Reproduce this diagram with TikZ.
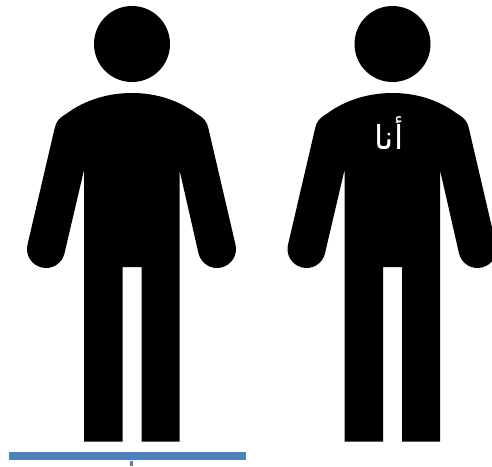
\documentclass[tikz,border=0pt]{standalone}
\usepackage{fontspec}
\newfontfamily\arabicfont[Script=Arabic]{DejaVu Sans}
\TeXXeTstate=1
\definecolor{barblue}{HTML}{4F81BD}
\usetikzlibrary{positioning}

\begin{document}
\begin{tikzpicture}[
    x=1pt, y=-1pt,
    headdot/.style={circle, fill=black, inner sep=0pt, minimum size=76pt},
    bodyfill/.style={fill=black, draw=none},
    shirtlabel/.style={text=white, inner sep=0pt, font=\arabicfont\fontsize{33}{40}\selectfont},
    basebar/.style={fill=barblue, inner sep=0pt, minimum width=237pt, minimum height=8pt},
    bartick/.style={draw=barblue, line width=2.5pt},
  ]
  \useasboundingbox (0,0) rectangle (492,466);

  % === Figures ===
  \foreach \shift/\name in {0/left, 260.5/right} {
    \begin{scope}[xshift=\shift pt]
      \node[headdot] (head\name) at (132,44) {};
      \path[bodyfill] (132,93)
        .. controls (110,93) and (86,99) .. (66,114)
        .. controls (59,118) and (56,122) .. (54.7,128)
        -- (27.5,244.7)
        .. controls (25.1,254.9) and (31.5,265.1) .. (41.7,267.5)
        .. controls (51.9,269.9) and (62.1,263.5) .. (64.5,253.3)
        -- (84,170) -- (84,441.7) -- (122.5,441.7) -- (122.5,267)
        -- (141.5,267) -- (141.5,441.7) -- (179.5,441.7) -- (179.5,170)
        -- (198.5,253.3)
        .. controls (200.9,263.5) and (211.1,269.9) .. (221.3,267.5)
        .. controls (231.5,265.1) and (237.9,254.9) .. (235.5,244.7)
        -- (208.3,128)
        .. controls (207,122) and (204,118) .. (197,114)
        .. controls (177,99) and (154,93) .. (132,93) -- cycle;
    \end{scope}
  }

  % Label on the right figure
  \node[shirtlabel] (melabel) at (389,133) {\beginR أنا\endR};

  % === Bar below the left figure ===
  \node[basebar] (bar) at (127.5,456.3) {};
  \coordinate (tickend) at (131.5,466);
  \draw[bartick] (bar.south -| tickend) -- (tickend);

\end{tikzpicture}
\end{document}
